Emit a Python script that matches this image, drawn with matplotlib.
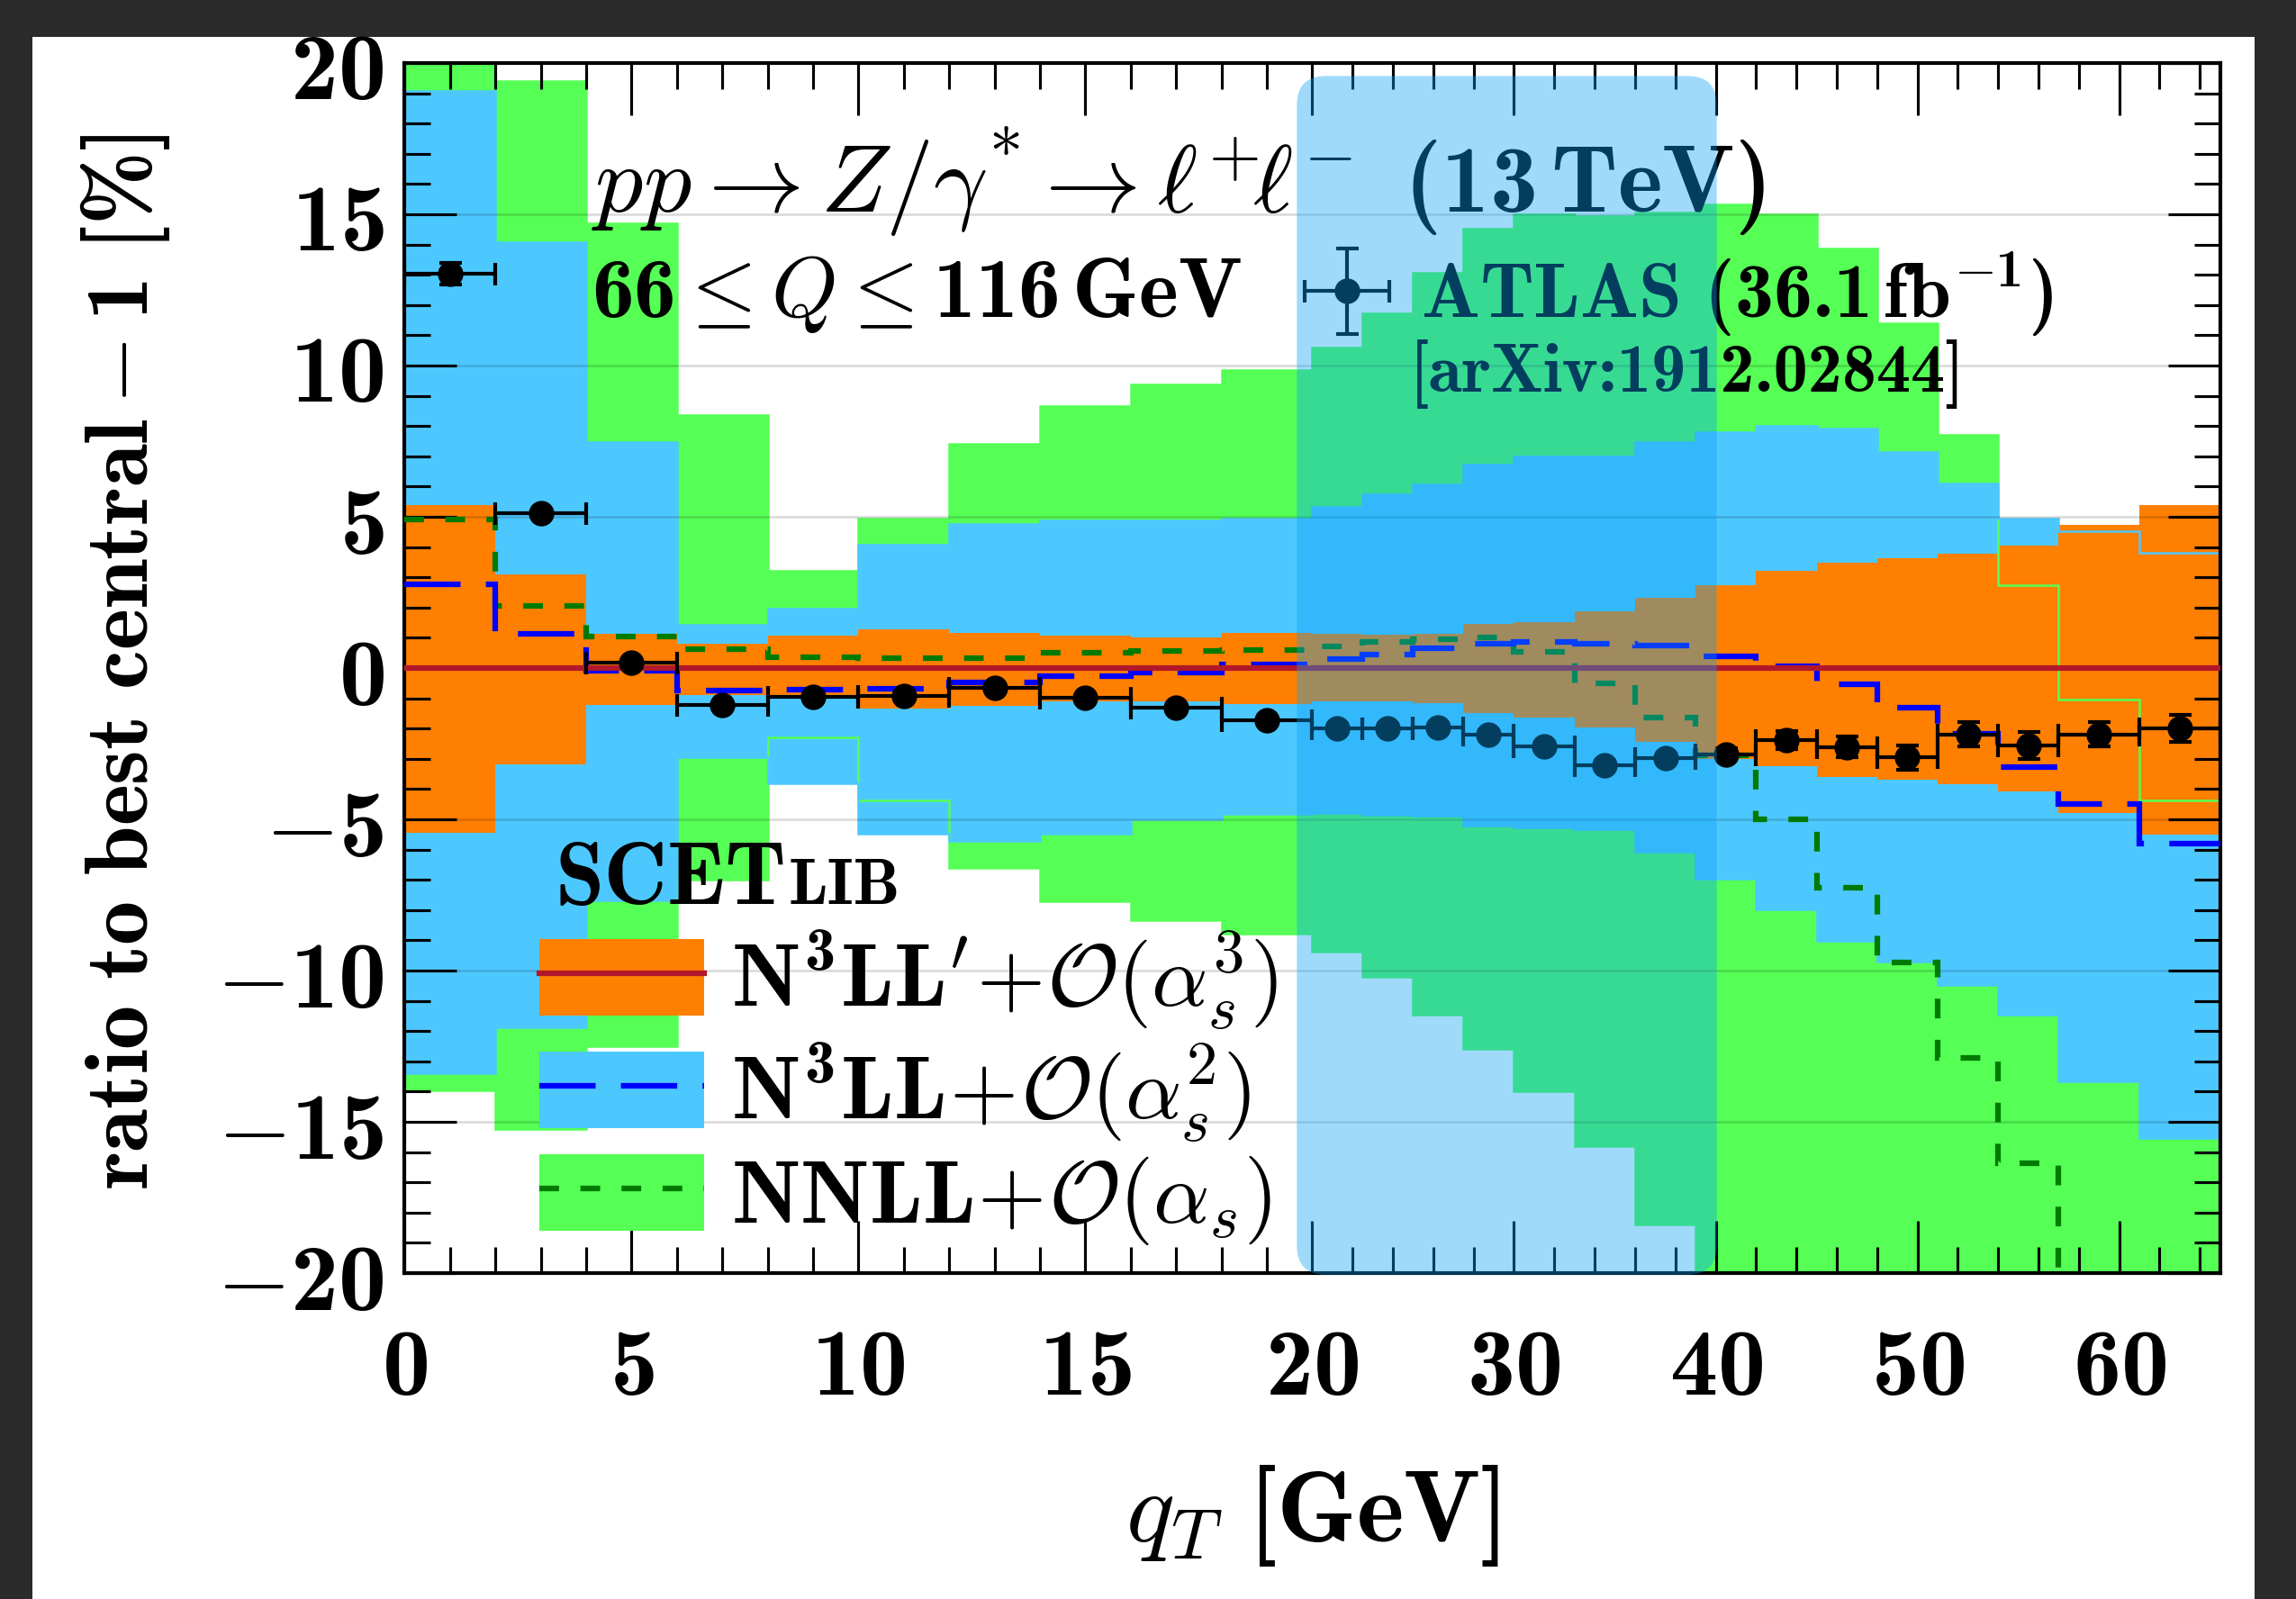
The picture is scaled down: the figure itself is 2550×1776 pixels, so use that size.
import numpy as np
import matplotlib.pyplot as plt
import matplotlib.ticker as mticker
from matplotlib.patches import Patch, FancyBboxPatch, Rectangle
from matplotlib.lines import Line2D
from matplotlib.container import ErrorbarContainer
from matplotlib.legend_handler import HandlerErrorbar
from matplotlib.transforms import IdentityTransform

# Computer Modern look, with real bold digits (cmb10)
plt.rcParams['mathtext.fontset'] = 'custom'
plt.rcParams['mathtext.rm'] = 'cmr10'
plt.rcParams['mathtext.it'] = 'cmmi10'
plt.rcParams['mathtext.bf'] = 'cmb10'
plt.rcParams['mathtext.cal'] = 'cmsy10'
plt.rcParams['mathtext.sf'] = 'cmss10'
plt.rcParams['mathtext.tt'] = 'cmtt10'
plt.rcParams['mathtext.fallback'] = 'cm'
plt.rcParams['font.family'] = 'DejaVu Serif'

# qT bin edges [GeV]
edges = np.array([0, 2, 4, 6, 8, 10, 12, 14, 16, 18, 20, 22.5, 25, 27.5, 30,
                  33, 36, 39, 42, 45, 48, 51, 54, 57, 61, 65])

# NNLL+O(as) band (green) and central (dashed)
nnll_hi = [21.0, 19.4, 14.7, 8.37, 3.2, 4.93, 7.4, 8.67, 9.37, 9.84, 10.6, 11.73, 13.07,
           14.53, 15.0, 14.95, 15.05, 15.33, 15.0, 13.87, 11.4, 7.7, 2.73, -1.03, -4.36]
nnll_lo = [-13.97, -15.25, -12.5, -7.0, -2.3, -4.38, -6.6, -7.72, -8.32, -8.78, -9.38, -10.2,
           -11.46, -12.6, -14.0, -15.8, -18.4, -22.0, -22.0, -22.0, -22.0, -22.0, -22.0, -22.0, -22.0]
nnll_c = [4.9, 2.04, 1.03, 0.63, 0.37, 0.34, 0.34, 0.5, 0.56, 0.6, 0.7, 0.85, 0.95,
          1.0, 0.55, -0.5, -1.65, -2.9, -5.0, -7.25, -9.73, -12.9, -16.36, -23.0, -26.0]

# N3LL+O(as^2) band (blue) and central (dashed)
n3ll_hi = [19.07, 14.07, 7.47, 1.43, 1.96, 4.09, 4.76, 4.87, 4.87, 4.93, 5.33, 5.73, 6.07,
           6.73, 7.0, 7.0, 7.47, 7.8, 8.0, 7.93, 7.13, 6.09, 4.93, 4.53, 3.8]
n3ll_lo = [-13.4, -11.86, -7.67, -2.96, -3.8, -5.47, -5.7, -5.47, -5.0, -4.83, -4.8, -4.85,
           -4.87, -5.2, -5.27, -5.34, -6.07, -6.95, -7.99, -9.02, -9.7, -10.48, -11.46, -13.66, -15.54]
n3ll_c = [2.76, 1.13, -0.1, -0.75, -0.7, -0.68, -0.47, -0.28, -0.15, 0.13, 0.3, 0.45, 0.65,
          0.8, 0.85, 0.8, 0.75, 0.4, 0.07, -0.54, -1.3, -2.16, -3.28, -4.48, -5.8]

# N3LL'+O(as^3) band (orange), central = best central
n3llp_hi = [5.4, 3.1, 1.13, 0.8, 1.07, 1.29, 1.15, 1.07, 1.0, 1.16, 1.13, 1.1, 1.13,
            1.47, 1.53, 1.87, 2.33, 2.73, 3.2, 3.47, 3.63, 3.77, 4.04, 4.73, 5.4]
n3llp_lo = [-5.45, -3.17, -1.22, -0.9, -1.0, -1.35, -1.25, -1.1, -1.1, -1.2, -1.1, -1.1, -1.17,
            -1.5, -1.63, -1.96, -2.45, -3.0, -3.24, -3.59, -3.68, -3.85, -4.08, -4.78, -5.5]
n3llp_c = [0.0] * 25

# ATLAS 36.1 fb^-1 data
atlas = [13.03, 5.13, 0.18, -1.22, -0.96, -0.92, -0.66, -0.98, -1.3, -1.72, -1.99, -1.99, -1.96,
         -2.2, -2.58, -3.22, -2.98, -2.85, -2.37, -2.61, -2.95, -2.19, -2.57, -2.2, -1.99]
atlas_err = [0.35, 0.12, 0.1, 0.1, 0.1, 0.1, 0.1, 0.1, 0.1, 0.12, 0.15, 0.15, 0.15,
             0.15, 0.15, 0.15, 0.15, 0.2, 0.3, 0.35, 0.4, 0.4, 0.45, 0.4, 0.45]

x_major = [0, 5, 10, 15, 20, 30, 40, 50, 60]
highlight_x = (19.66, 40.05)
highlight_y = (19.57, -20.05)

orange = '#FF7F00'
blue = '#4DC8FF'
green = '#55FF55'
red = '#B2182B'
dash_blue = (0, (10, 4.5))
dash_green = (0, (3.5, 3.8))


def fwd(x):
    x = np.asarray(x, float)
    return np.where(x <= 20, x / 20.0, 1.0 + (x - 20.0) / 45.0)


def inv(u):
    u = np.asarray(u, float)
    return np.where(u <= 1, 20.0 * u, 20.0 + 45.0 * (u - 1.0))


fig = plt.figure(figsize=(8.5, 5.92), dpi=300)
fig.patch.set_facecolor('#2b2b2b')
fig.add_artist(Rectangle((36 / 2550, 0), (2504 - 36) / 2550, 1 - 41 / 1776,
                         transform=fig.transFigure, facecolor='white',
                         edgecolor='none', zorder=-10))
ax = fig.add_axes([0.1762, 0.2038, 0.7907, 0.7568])
ax.set_xscale('function', functions=(fwd, inv))
ax.set_xlim(0, 65)
ax.set_ylim(-20, 20)

# bands
ax.stairs(nnll_hi, edges, baseline=nnll_lo, fill=True, color=green, lw=0, zorder=1.0)
ax.stairs(n3ll_hi, edges, baseline=n3ll_lo, fill=True, color=blue, lw=0, zorder=1.1)
ax.stairs(n3llp_hi, edges, baseline=n3llp_lo, fill=True, color=orange, lw=0, zorder=1.2)
for hi, lo, c in [(nnll_hi, nnll_lo, green), (n3ll_hi, n3ll_lo, blue)]:
    ax.stairs(hi, edges, baseline=None, color=c, lw=0.6, zorder=1.5)
    ax.stairs(lo, edges, baseline=None, color=c, lw=0.6, zorder=1.5)

# central values
ax.stairs(nnll_c, edges, baseline=None, color='#007A00', lw=1.5, ls=dash_green, zorder=3.0)
ax.stairs(n3ll_c, edges, baseline=None, color='#0000FF', lw=1.5, ls=dash_blue, zorder=3.1)
ax.stairs(n3llp_c, edges, baseline=None, color=red, lw=1.5, zorder=3.2)

centers = 0.5 * (edges[1:] + edges[:-1])
halfw = 0.5 * (edges[1:] - edges[:-1])
eb = ax.errorbar(centers, atlas, xerr=halfw, yerr=atlas_err, fmt='o', color='k',
                 ms=5.8, elinewidth=1.0, capsize=3.0, capthick=1.0, zorder=4)

# axes cosmetics
ax.set_axisbelow(False)
ax.grid(axis='y', which='major', color='k', alpha=0.15, lw=0.6)
ax.xaxis.set_major_locator(mticker.FixedLocator(x_major))
ax.xaxis.set_minor_locator(mticker.FixedLocator(
    [v for v in list(range(1, 20)) + list(range(22, 65, 2)) if v not in x_major]))
ax.yaxis.set_major_locator(mticker.MultipleLocator(5))
ax.yaxis.set_minor_locator(mticker.MultipleLocator(1))
fmt = mticker.FuncFormatter(lambda v, p: r'$\mathbf{%d}$' % round(v))
ax.xaxis.set_major_formatter(fmt)
ax.yaxis.set_major_formatter(fmt)
ax.tick_params(which='both', direction='in', top=True, right=True, width=0.75)
ax.tick_params(which='major', length=14, labelsize=25.5)
ax.tick_params(which='minor', length=7)
ax.tick_params(axis='x', which='major', pad=13)
ax.tick_params(axis='y', which='major', pad=5.5)
for s in ax.spines.values():
    s.set_linewidth(1.0)

ax.set_ylabel(r'$\mathbf{ratio\ to\ best\ central} - \mathbf{1\ [\%]}$', fontsize=23.6)
ax.yaxis.set_label_coords(-0.128, 0.505)
ax.set_xlabel(r'$q_T\ \mathbf{[GeV]}$', fontsize=27)
ax.xaxis.set_label_coords(0.5, -0.157)
ax.xaxis.label.set_va('top')

# annotations
ax.text(0.103, 0.8765,
        r'$pp \rightarrow Z/\gamma^{*} \rightarrow \ell^{+}\!\ell^{-}\ \,\mathbf{(13\,TeV)}$',
        transform=ax.transAxes, fontsize=25.5, va='baseline', ha='left', zorder=6)
ax.text(0.103, 0.790, r'$\mathbf{66} \leq Q \leq \mathbf{116\,GeV}$',
        transform=ax.transAxes, fontsize=22.5, va='baseline', ha='left', zorder=6)
ax.text(0.554, 0.7284, '[arXiv:1912.02844]', fontfamily='cmb10',
        transform=ax.transAxes, fontsize=18.3, va='baseline', ha='left', zorder=6)

leg1 = ax.legend([eb], [r'$\mathbf{ATLAS\ (36.1\,fb^{-1})}$'], loc='center left',
                 bbox_to_anchor=(0.4956, 0.8088), frameon=False, fontsize=20.7,
                 handlelength=1.10, handletextpad=0.40, borderpad=0, borderaxespad=0,
                 handler_map={ErrorbarContainer: HandlerErrorbar(xerr_size=0.55)})
ax.add_artist(leg1)

handles = [(Patch(facecolor=orange, edgecolor='none'), Line2D([], [], color=red, lw=1.5)),
           (Patch(facecolor=blue, edgecolor='none'),
            Line2D([], [], color='#0000FF', lw=1.5, ls=dash_blue)),
           (Patch(facecolor=green, edgecolor='none'),
            Line2D([], [], color='#007A00', lw=1.5, ls=dash_green))]
labels = [r'$\mathbf{N^3LL^{\prime}}\!+\!\mathcal{O}(\alpha_s^3)$',
          r'$\mathbf{N^3LL}\!+\!\mathcal{O}(\alpha_s^2)$',
          r'$\mathbf{NNLL}\!+\!\mathcal{O}(\alpha_s)$']
leg2 = ax.legend(handles, labels, loc='upper left', bbox_to_anchor=(0.0740, 0.2839),
                 frameon=False, fontsize=23.5, handlelength=1.87, handleheight=0.95,
                 handletextpad=0.31, labelspacing=0.10, borderpad=0, borderaxespad=0)

scet = ax.text(0.0827, 0.3054, 'SCET', fontfamily='cmb10', transform=ax.transAxes,
               fontsize=23.5, va='baseline', ha='left', zorder=6)
renderer = fig.canvas.get_renderer()
bb = scet.get_window_extent(renderer)
x_lib = ax.transAxes.inverted().transform((bb.x1, bb.y0))[0]
ax.text(x_lib + 0.001, 0.3054, 'LIB', fontfamily='cmb10', transform=ax.transAxes,
        fontsize=17.5, va='baseline', ha='left', zorder=6)

# highlighted region 20-40 GeV
(x0, y0) = ax.transData.transform((highlight_x[0], highlight_y[1]))
(x1, y1) = ax.transData.transform((highlight_x[1], highlight_y[0]))
box = FancyBboxPatch((x0, y0), x1 - x0, y1 - y0, boxstyle='round,pad=0,rounding_size=32',
                     transform=IdentityTransform(), facecolor='#0AA0F7', alpha=0.39,
                     edgecolor='none', zorder=10)
fig.add_artist(box)

fig.savefig('out.png', dpi=300, facecolor=fig.get_facecolor())
